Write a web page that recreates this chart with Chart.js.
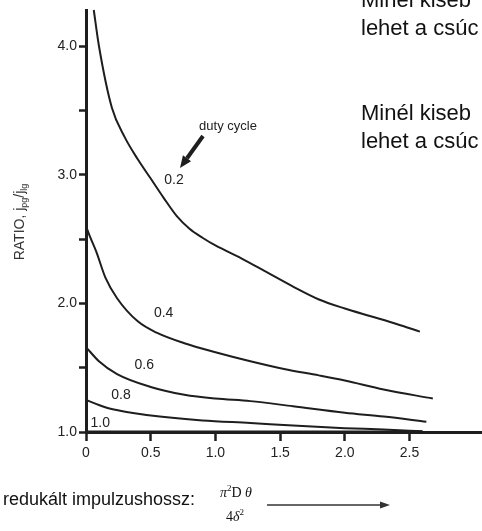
<!DOCTYPE html>
<html>
<head>
<meta charset="utf-8">
<script src="https://cdn.jsdelivr.net/npm/chart.js@4"></script>
<style>
  html, body { margin: 0; padding: 0; background: #fff; }
  canvas { display: block; }
</style>
</head>
<body>
<canvas id="myChart" width="482" height="531"></canvas>
<script>
// duty cycles (one curve each)
var dutyCycles = ["0.2", "0.4", "0.6", "0.8", "1.0"];

// reduced pulse length (x) and ratio j_pg/j_lg (y)
var dc02x = [0.06, 0.1, 0.2, 0.3, 0.4, 0.5, 0.6, 0.7, 0.8, 0.9, 1.0, 1.2, 1.4, 1.6, 1.8, 2.0, 2.2, 2.4, 2.58];
var dc02y = [4.28, 4.0, 3.52, 3.29, 3.12, 2.97, 2.82, 2.68, 2.58, 2.51, 2.45, 2.35, 2.24, 2.13, 2.03, 1.96, 1.9, 1.84, 1.78];

var dc04x = [0, 0.03, 0.08, 0.15, 0.24, 0.4, 0.55, 0.76, 1.0, 1.27, 1.53, 1.8, 2.0, 2.3, 2.68];
var dc04y = [2.6, 2.52, 2.4, 2.2, 2.04, 1.86, 1.77, 1.69, 1.62, 1.55, 1.49, 1.44, 1.4, 1.33, 1.26];

var dc06x = [0, 0.1, 0.24, 0.5, 0.76, 1.0, 1.27, 1.6, 2.0, 2.3, 2.63];
var dc06y = [1.66, 1.55, 1.45, 1.35, 1.29, 1.26, 1.24, 1.2, 1.15, 1.12, 1.08];

var dc08x = [0, 0.1, 0.19, 0.35, 0.57, 0.9, 1.27, 1.6, 2.0, 2.3, 2.6];
var dc08y = [1.25, 1.21, 1.18, 1.15, 1.12, 1.09, 1.07, 1.05, 1.03, 1.02, 1.005];

var dc10x = [0, 2.6];
var dc10y = [1.0, 1.0];

// axis ticks
var xTicks = [0, 0.5, 1.0, 1.5, 2.0, 2.5];
var yTicks = [1.0, 1.5, 2.0, 2.5, 3.0, 3.5, 4.0];
var yLabeled = [1.0, 2.0, 3.0, 4.0];

function pts(xs, ys) {
  return xs.map(function (x, i) { return { x: x, y: ys[i] }; });
}

var seriesX = [dc02x, dc04x, dc06x, dc08x, dc10x];
var seriesY = [dc02y, dc04y, dc06y, dc08y, dc10y];

var ink = "#1e1e1e";
var sans = '"Liberation Sans", Arial, sans-serif';
var serif = '"Liberation Serif", "Times New Roman", serif';

var notes = {
  id: "notes",
  afterDraw: function (chart) {
    var ctx = chart.ctx;
    var xs = chart.scales.x, ys = chart.scales.y;
    ctx.save();
    ctx.fillStyle = "#222";

    // curve labels (placed in data units)
    var labelPos = [[0.68, 2.96], [0.6, 1.92], [0.45, 1.52], [0.27, 1.29], [0.11, 1.07]];
    ctx.font = "14px " + sans;
    ctx.textAlign = "center";
    ctx.textBaseline = "middle";
    dutyCycles.forEach(function (d, i) {
      ctx.fillText(d, xs.getPixelForValue(labelPos[i][0]), ys.getPixelForValue(labelPos[i][1]));
    });

    // "duty cycle" note and its arrow
    ctx.font = "13px " + sans;
    ctx.fillText("duty cycle", 228, 126);
    var tx = 203, ty = 136, hx = 180, hy = 168;
    var ang = Math.atan2(hy - ty, hx - tx);
    var bx = hx - 12 * Math.cos(ang), by = hy - 12 * Math.sin(ang);
    ctx.strokeStyle = ink;
    ctx.lineWidth = 4;
    ctx.beginPath();
    ctx.moveTo(tx, ty);
    ctx.lineTo(bx, by);
    ctx.stroke();
    ctx.beginPath();
    ctx.moveTo(hx, hy);
    ctx.lineTo(bx + 5 * Math.sin(ang), by - 5 * Math.cos(ang));
    ctx.lineTo(bx - 5 * Math.sin(ang), by + 5 * Math.cos(ang));
    ctx.closePath();
    ctx.fillStyle = ink;
    ctx.fill();

    // y axis title with subscripts
    ctx.save();
    ctx.translate(24, 222);
    ctx.rotate(-Math.PI / 2);
    ctx.textAlign = "left";
    ctx.textBaseline = "alphabetic";
    ctx.fillStyle = "#333";
    var parts = [["RATIO, j", 14, 0], ["pg", 9, 3], ["/j", 14, 0], ["lg", 9, 3]];
    var total = 0;
    parts.forEach(function (p) { ctx.font = p[1] + "px " + sans; total += ctx.measureText(p[0]).width; });
    var px = -total / 2;
    parts.forEach(function (p) {
      ctx.font = p[1] + "px " + sans;
      ctx.fillText(p[0], px, p[2]);
      px += ctx.measureText(p[0]).width;
    });
    ctx.restore();

    // text cut at the right edge
    ctx.fillStyle = "#111";
    ctx.textAlign = "left";
    ctx.textBaseline = "alphabetic";
    ctx.font = "22px " + sans;
    ctx.fillText("Minél kiseb", 361, 7);
    ctx.fillText("lehet a csúc", 361, 35);
    ctx.fillText("Minél kiseb", 361, 120);
    ctx.fillText("lehet a csúc", 361, 148);

    // x axis caption
    ctx.font = "18px " + sans;
    ctx.fillText("redukált impulzushossz:", 3, 505);

    function run(pieces, x, y) {
      pieces.forEach(function (p) {
        ctx.font = p[1];
        ctx.fillText(p[0], x, y + p[2]);
        x += ctx.measureText(p[0]).width;
      });
    }
    run([["\u03C0", "italic 14px " + serif, 0], ["2", "9px " + serif, -6], ["D ", "14px " + serif, 0], ["\u03B8", "italic 14px " + serif, 0]], 220, 497);
    run([["4", "14px " + serif, 0], ["\u03B4", "italic 14px " + serif, 0], ["2", "9px " + serif, -6]], 226, 521);

    // long arrow
    ctx.strokeStyle = "#333";
    ctx.lineWidth = 1.5;
    ctx.beginPath();
    ctx.moveTo(267, 505);
    ctx.lineTo(381, 505);
    ctx.stroke();
    ctx.fillStyle = "#333";
    ctx.beginPath();
    ctx.moveTo(390, 505);
    ctx.lineTo(380, 501.5);
    ctx.lineTo(380, 508.5);
    ctx.closePath();
    ctx.fill();

    ctx.restore();
  }
};

var ctx = document.getElementById("myChart");

var myChart = new Chart(ctx, {
  type: "line",
  data: {
    datasets: dutyCycles.map(function (d, i) {
      return {
        label: d,
        data: pts(seriesX[i], seriesY[i]),
        borderColor: ink,
        borderWidth: i === 4 ? 3 : 2,
        pointRadius: 0,
        fill: false,
        cubicInterpolationMode: "monotone",
        clip: 6
      };
    })
  },
  options: {
    responsive: false,
    animation: false,
    events: [],
    layout: { padding: { top: 7, right: 0, bottom: 0, left: 0 } },
    plugins: {
      legend: { display: false },
      tooltip: { enabled: false }
    },
    scales: {
      x: {
        type: "linear",
        min: 0,
        max: 3.06,
        afterBuildTicks: function (s) { s.ticks = xTicks.map(function (v) { return { value: v }; }); },
        afterFit: function (s) { s.height = 99; },
        ticks: {
          color: "#222",
          font: { size: 14, family: sans },
          padding: 4,
          maxRotation: 0,
          callback: function (v) { return v === 0 ? "0" : v.toFixed(1); }
        },
        grid: { drawOnChartArea: false, drawTicks: true, tickLength: 9, tickWidth: 2.5, tickColor: ink },
        border: { display: true, color: ink, width: 3 }
      },
      y: {
        type: "linear",
        min: 1,
        max: 4.277,
        afterBuildTicks: function (s) { s.ticks = yTicks.map(function (v) { return { value: v }; }); },
        afterFit: function (s) { s.width = 86; },
        ticks: {
          color: "#222",
          font: { size: 14, family: sans },
          padding: 2,
          callback: function (v) { return yLabeled.indexOf(v) >= 0 ? v.toFixed(1) : ""; }
        },
        grid: { drawOnChartArea: false, drawTicks: true, tickLength: 7, tickWidth: 2.5, tickColor: ink },
        border: { display: true, color: ink, width: 3 }
      }
    }
  },
  plugins: [notes]
});
</script>
</body>
</html>
